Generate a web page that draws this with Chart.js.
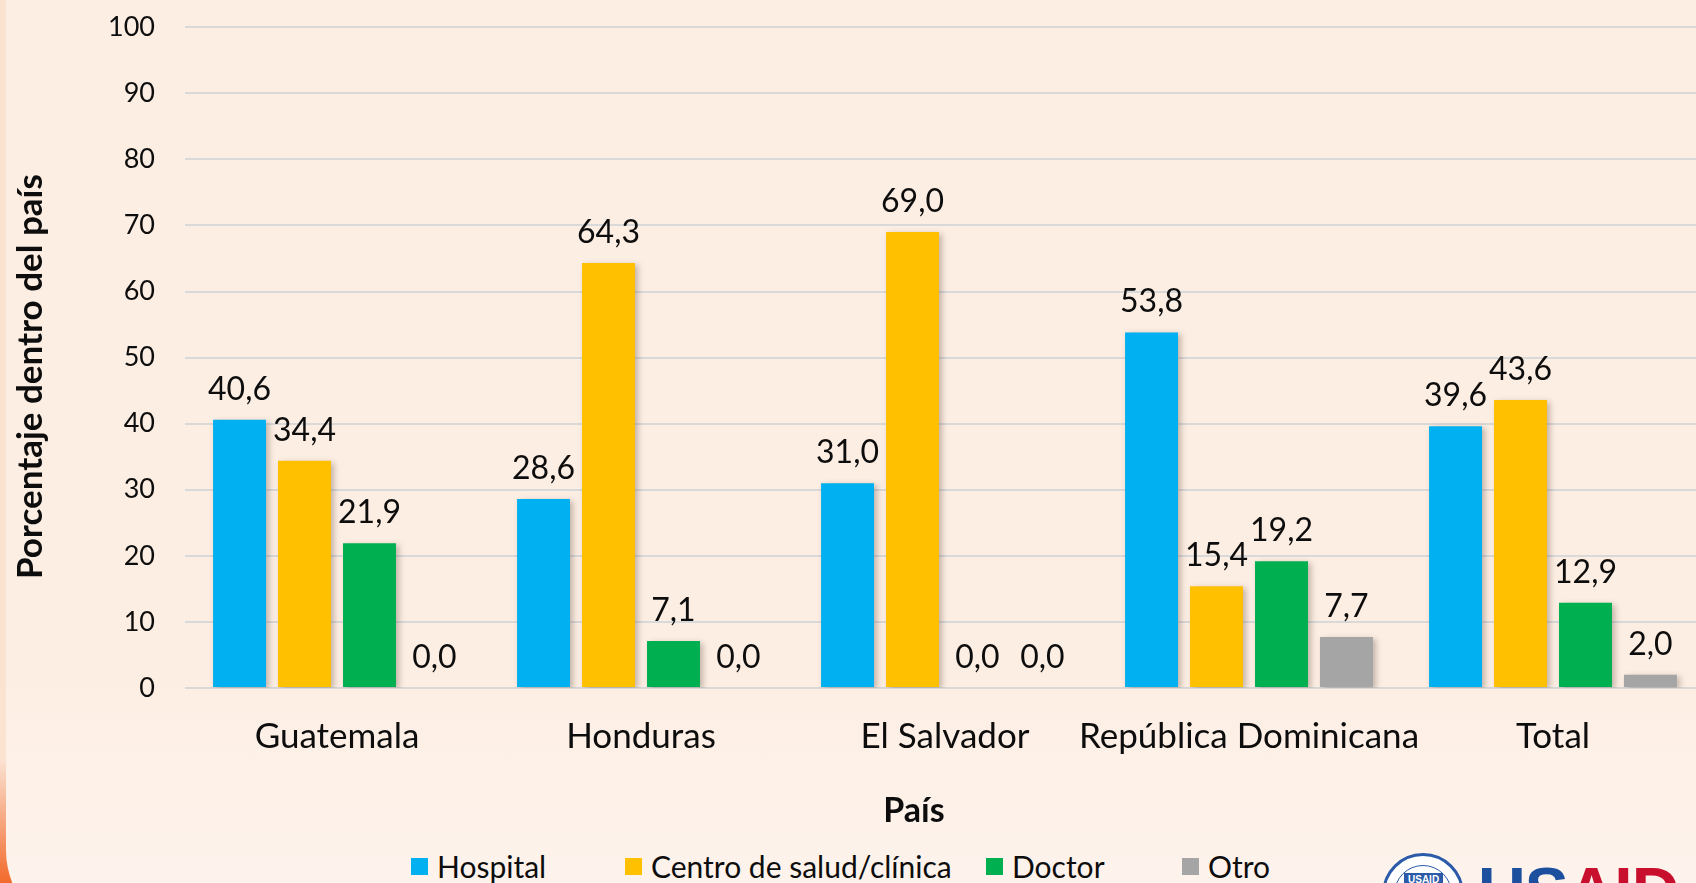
<!DOCTYPE html>
<html lang="es">
<head>
<meta charset="utf-8">
<title>Lugar de atención por país</title>
<script src="https://cdn.jsdelivr.net/npm/chart.js@4.4.1/dist/chart.umd.min.js"></script>
<style>
    html, body {
        margin: 0;
        padding: 0;
        width: 1696px;
        height: 883px;
        overflow: hidden;
        background: linear-gradient(to bottom, #fbe3d2 0%, #fbe3d2 86%, #f26a2c 100%);
        font-family: Lato, 'Open Sans', sans-serif;
    }
    #panel {
        position: absolute;
        left: 6px;
        top: 0;
        width: 1720px;
        height: 940px;
        border-bottom-left-radius: 90px;
        background: linear-gradient(to bottom, #fdeee3 0%, #fdeee3 72%, #fef5ef 100%);
    }
    #contenedor {
        position: absolute;
        left: 0;
        top: -19px;
        width: 1712px;
        height: 861px;
    }
    #leyenda {
        position: absolute;
        left: 411px;
        top: 851px;
        display: grid;
        grid-template-columns: 214px 361px 196px auto;
        font: 30px/30px Lato, sans-serif;
        color: #0d0d0d;
        white-space: nowrap;
    }
    #leyenda .item {
        display: flex;
        align-items: center;
    }
    #leyenda .caja {
        width: 17px;
        height: 17px;
        margin-right: 9px;
    }
    #sello {
        position: absolute;
        left: 1382px;
        top: 853px;
        width: 82px;
        height: 82px;
        border-radius: 50%;
        background: #ffffff;
        border: 3px solid #2a5aa8;
        box-sizing: border-box;
    }
    #sello::after {
        content: '';
        position: absolute;
        left: 9px;
        top: 9px;
        right: 9px;
        bottom: 9px;
        border-radius: 50%;
        border: 1px solid #2a5aa8;
    }
    #sello span {
        position: absolute;
        left: 19px;
        top: 17px;
        background: #2a5aa8;
        color: #fff;
        font: bold 10px 'Liberation Sans', Arial, sans-serif;
        padding: 1px 4px;
        z-index: 1;
    }
    #marca {
        position: absolute;
        left: 1478px;
        top: 858px;
        font: bold 66px/66px 'Liberation Sans', Arial, sans-serif;
        letter-spacing: -1px;
    }
</style>
</head>
<body>
<div id="panel"></div>
<div id="contenedor"><canvas id="graficaLugar"></canvas></div>
<div id="leyenda"></div>
<div id="sello"><span>USAID</span></div>
<div id="marca"><span style="color:#1d4f9f">US</span><span style="color:#c8102e">AID</span></div>

<script>
// Países y porcentaje según el lugar de atención
const paises = ['Guatemala', 'Honduras', 'El Salvador', 'República Dominicana', 'Total'];
const hospital = [40.6, 28.6, 31.0, 53.8, 39.6];
const centroSalud = [34.4, 64.3, 69.0, 15.4, 43.6];
const doctor = [21.9, 7.1, 0.0, 19.2, 12.9];
const otro = [0.0, 0.0, 0.0, 7.7, 2.0];
const ticksEjeY = [0, 10, 20, 30, 40, 50, 60, 70, 80, 90, 100];

const colorTexto = '#0d0d0d';
const tituloX = 'País';
const tituloY = 'Porcentaje dentro del país';

// Formato con coma decimal
function formatoValor(v) {
    return v.toFixed(1).replace('.', ',');
}

// Sombra suave detrás de las barras
const sombraBarras = {
    id: 'sombraBarras',
    beforeDatasetsDraw(chart) {
        const ctx = chart.ctx;
        ctx.save();
        ctx.shadowColor = 'rgba(60, 40, 30, 0.30)';
        ctx.shadowBlur = 6;
        ctx.shadowOffsetX = 3;
        ctx.shadowOffsetY = 2;
    },
    afterDatasetsDraw(chart) {
        chart.ctx.restore();
    }
};

// Etiquetas con el valor encima de cada barra
const etiquetasValor = {
    id: 'etiquetasValor',
    afterDatasetsDraw(chart) {
        const ctx = chart.ctx;
        ctx.save();
        ctx.font = '32px Lato';
        ctx.fillStyle = colorTexto;
        ctx.textAlign = 'center';
        ctx.textBaseline = 'alphabetic';
        chart.data.datasets.forEach((ds, i) => {
            const meta = chart.getDatasetMeta(i);
            meta.data.forEach((barra, j) => {
                ctx.fillText(formatoValor(ds.data[j]), barra.x, barra.y - 20);
            });
        });
        ctx.restore();
    }
};

// Títulos de los ejes (un poco desplazados respecto al centro del área)
const titulosEjes = {
    id: 'titulosEjes',
    afterDraw(chart) {
        const ctx = chart.ctx;
        const area = chart.chartArea;
        ctx.save();
        ctx.font = 'bold 34px Lato';
        ctx.fillStyle = colorTexto;
        ctx.textAlign = 'center';
        ctx.textBaseline = 'middle';
        ctx.fillText(tituloX, (area.left + area.right) / 2 - 31, chart.scales.x.bottom - 31);

        ctx.font = 'bold 35px Lato';
        ctx.translate(31, (area.top + area.bottom) / 2 + 19);
        ctx.rotate(-Math.PI / 2);
        ctx.fillText(tituloY, 0, 0);
        ctx.restore();
    }
};

const ctx = document.getElementById('graficaLugar').getContext('2d');

const grafica = new Chart(ctx, {
    type: 'bar',
    data: {
        labels: paises,
        datasets: [
            { label: 'Hospital', data: hospital, backgroundColor: '#00b0f0' },
            { label: 'Centro de salud/clínica', data: centroSalud, backgroundColor: '#ffc000' },
            { label: 'Doctor', data: doctor, backgroundColor: '#00b050' },
            { label: 'Otro', data: otro, backgroundColor: '#a5a5a5' }
        ]
    },
    options: {
        responsive: true,
        maintainAspectRatio: false,
        animation: false,
        categoryPercentage: 0.855,
        barPercentage: 0.815,
        layout: {
            padding: { top: 7, right: 7, left: 0, bottom: 0 }
        },
        plugins: {
            tooltip: { enabled: false },
            legend: { display: false }
        },
        scales: {
            x: {
                grid: { display: false, drawTicks: false },
                border: { display: false },
                ticks: {
                    color: colorTexto,
                    font: { family: 'Lato', size: 35 },
                    padding: 28,
                    maxRotation: 0,
                    autoSkip: false
                },
                afterFit(escala) {
                    escala.height = 154;
                }
            },
            y: {
                min: 0,
                max: 100,
                afterBuildTicks(escala) {
                    escala.ticks = ticksEjeY.map(v => ({ value: v }));
                },
                grid: {
                    color: '#d9d9d9',
                    lineWidth: 2,
                    drawTicks: false
                },
                border: { display: false },
                ticks: {
                    color: colorTexto,
                    font: { family: 'Lato', size: 27 },
                    padding: 30
                },
                afterFit(escala) {
                    escala.width = 185;
                }
            }
        }
    },
    plugins: [sombraBarras, etiquetasValor, titulosEjes]
});

// Leyenda en HTML a partir de las series de la gráfica
const leyenda = document.getElementById('leyenda');
grafica.data.datasets.forEach(ds => {
    const item = document.createElement('div');
    item.className = 'item';
    const caja = document.createElement('span');
    caja.className = 'caja';
    caja.style.background = ds.backgroundColor;
    const texto = document.createElement('span');
    texto.textContent = ds.label;
    item.appendChild(caja);
    item.appendChild(texto);
    leyenda.appendChild(item);
});
</script>
</body>
</html>
